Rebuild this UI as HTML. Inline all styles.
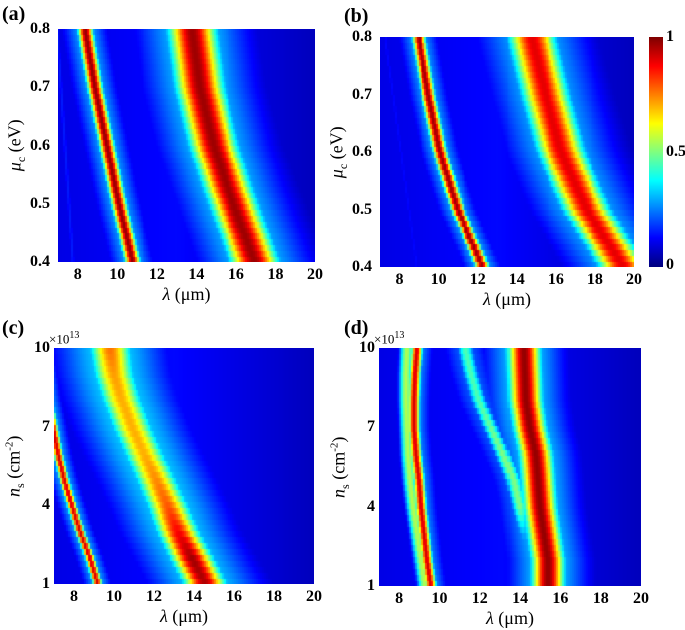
<!DOCTYPE html>
<html><head><meta charset="utf-8">
<style>
body{margin:0;background:#fff;}
#wrap{position:relative;width:685px;height:630px;overflow:hidden;font-family:"Liberation Serif",serif;color:#000;}
canvas{position:absolute;}
.t{position:absolute;font-size:16px;line-height:16px;white-space:nowrap;font-weight:bold;}
.pl{position:absolute;font-size:20px;font-weight:bold;line-height:20px;}
.xl{position:absolute;font-size:18px;line-height:18px;white-space:nowrap;}
.yl{position:absolute;font-size:18px;line-height:18px;white-space:nowrap;transform:rotate(-90deg);transform-origin:center;}
</style></head><body>
<div id="wrap"></div>
<script>
// ---- data (ridge centers in µm at sampled y values) ----
var aY=[0.4,0.5,0.6,0.7,0.8];
var aBand1=[10.8,10.1,9.5,8.9,8.4];
var aBand2=[17.0,15.9,14.9,14.2,13.8];
var aFaint=[7.8,7.6,7.4,7.2,7.0];
var bY=[0.4,0.5,0.6,0.7,0.8];
var bBand1=[12.3,11.0,10.1,9.5,9.0];
var bBand2=[19.5,17.6,16.3,15.5,14.8];
var bFaint=[8.9,8.5,8.1,7.7,7.3];
var cY=[1,2,3,4,5,6,7,8,9,10];
var cBand1=[9.2,8.8,8.3,7.9,7.5,7.2,6.95,6.7,6.5,6.3];
var cBand2=[14.6,13.9,13.2,12.7,12.1,11.5,10.9,10.4,10.0,9.8];
var cAmp2=[1.08,1.1,1.0,0.9,0.84,0.8,0.8,0.8,0.82,0.87];
var dY=[1,2,3,4,5,6,7,8,9,10];
var dBand1=[9.6,9.4,9.25,9.1,9.0,8.85,8.75,8.75,8.8,8.9];
var dBand1b=[9.3,9.1,8.9,8.7,8.55,8.45,8.4,8.35,8.35,8.4];
var dBand3=[14.6,14.4,14.2,14.0,13.7,13.2,12.6,12.0,11.6,11.3];
var dAmp3=[0.1,0.15,0.3,0.5,0.5,0.5,0.48,0.45,0.45,0.45];
var dBand4=[15.4,15.4,15.2,15.0,14.9,14.8,14.5,14.3,14.25,14.2];
var xTicks=[8,10,12,14,16,18,20];
var muTicks=[0.4,0.5,0.6,0.7,0.8];
var nTicks=[1,4,7,10];
var cbTicks=[0,0.5,1];

function interp(ys,vs,y){
  if(y<=ys[0])return vs[0];
  for(var i=1;i<ys.length;i++){if(y<=ys[i]){var f=(y-ys[i-1])/(ys[i]-ys[i-1]);return vs[i-1]+f*(vs[i]-vs[i-1]);}}
  return vs[vs.length-1];
}
function jet(v){v=Math.max(0,Math.min(1,v));
  function c(x){return Math.round(255*Math.max(0,Math.min(1,x)));}
  return 'rgb('+c(1.5-Math.abs(4*v-3))+','+c(1.5-Math.abs(4*v-2))+','+c(1.5-Math.abs(4*v-1))+')';}
function g(x,c,s){return Math.exp(-(x-c)*(x-c)/(2*s*s));}
function bg(x){return x<13?0.1+0.03*(x-7)/6:0.13-0.07*(x-13)/7;}
function mx(){return Math.max.apply(null,arguments);}

var panels=[
 {id:'a',x0:58,x1:315,y0:29,y1:262,ymin:0.4,ymax:0.8,
  f:function(x,y){var c1=interp(aY,aBand1,y),c2=interp(aY,aBand2,y),c3=interp(aY,aFaint,y);
   return mx(bg(x),g(x,c1,0.27)*0.98,0.3*g(x,c1,0.8),0.97*g(x,c2,0.85),0.35*g(x,c2,2.0),0.15*g(x,c3,0.1));}},
 {id:'b',x0:380,x1:634,y0:37,y1:267,ymin:0.4,ymax:0.8,
  f:function(x,y){var c1=interp(bY,bBand1,y),c2=interp(bY,bBand2,y),c3=interp(bY,bFaint,y);
   return mx(bg(x),g(x,c1,0.25)*0.97,0.3*g(x,c1,0.7),0.9*g(x,c2,0.85),0.33*g(x,c2,2.0),0.13*g(x,c3,0.1));}},
 {id:'c',x0:54,x1:314,y0:348,y1:584,ymin:1,ymax:10,
  f:function(x,y){var c1=interp(cY,cBand1,y),c2=interp(cY,cBand2,y),a2=interp(cY,cAmp2,y);
   return mx(bg(x),0.92*g(x,c1,0.17),0.3*g(x,c1,0.5),a2*0.88*g(x,c2,0.75),0.35*g(x,c2,2.0));}},
 {id:'d',x0:379,x1:641,y0:348,y1:586,ymin:1,ymax:10,
  f:function(x,y){var c1=interp(dY,dBand1,y),c1b=interp(dY,dBand1b,y),c3=interp(dY,dBand3,y),a3=interp(dY,dAmp3,y),c4=interp(dY,dBand4,y);
   return mx(bg(x),0.92*g(x,c1,0.2),0.55*g(x,c1b,0.25),0.28*g(x,c1,0.6),a3*g(x,c3,0.3),0.22*g(x,c3,0.9),0.98*g(x,c4,0.58),0.35*g(x,c4,1.4));}}
];

var wrap=document.getElementById('wrap');
function addText(cls,txt,left,top,name,html){var d=document.createElement('div');d.className=cls;
  if(html)d.innerHTML=txt;else d.textContent=txt;d.style.left=left+'px';d.style.top=top+'px';
  
  
  wrap.appendChild(d);return d;}

panels.forEach(function(p){
  var W=p.x1-p.x0,H=p.y1-p.y0;
  var cv=document.createElement('canvas');cv.width=W;cv.height=H;cv.style.left=p.x0+'px';cv.style.top=p.y0+'px';
  
  
  wrap.appendChild(cv);
  var ctx=cv.getContext('2d');var NX=130,NY=40;
  for(var j=0;j<NY;j++){var y=p.ymin+(p.ymax-p.ymin)*(j+0.5)/NY;
    for(var i=0;i<NX;i++){var x=7+13*(i+0.5)/NX;
      ctx.fillStyle=jet(p.f(x,y));
      var px=Math.floor(W*i/NX),px2=Math.ceil(W*(i+1)/NX);
      var py=Math.floor(H-H*(j+1)/NY),py2=Math.ceil(H-H*j/NY);
      ctx.fillRect(px,py,px2-px,py2-py);}}
  var sx=function(v){return p.x0+(v-7)/13*W;};
  var sy=function(v){return p.y1-(v-p.ymin)/(p.ymax-p.ymin)*H;};
  xTicks.forEach(function(t){addText('t',String(t),sx(t)-(t>=10?8:4),p.y1+5,'x-tick-'+p.id);});
  var yt=p.ymin<1?muTicks:nTicks;
  yt.forEach(function(t){var s=p.ymin<1?t.toFixed(1):String(t);
    addText('t',s,p.x0-4-(s.length*8),sy(t)-8,'y-tick-'+p.id);});
  addText('xl','<i>λ</i> (μm)',p.x0+W/2-24,p.y1+23,'x-axis-title-'+p.id,true);
  var yl;
  if(p.ymin<1) yl=addText('yl','<i>μ</i><sub style="font-size:12px">c</sub> (eV)',0,0,'y-axis-title-'+p.id,true);
  else yl=addText('yl','<i>n</i><sub style="font-size:12px">s</sub> (cm<sup style="font-size:11px">-2</sup>)',0,0,'y-axis-title-'+p.id,true);
  var cx=p.x0-40, cy=p.y0+H/2;
  yl.style.left=(cx-yl.offsetWidth/2)+'px';yl.style.top=(cy-yl.offsetHeight/2)+'px';
  if(p.ymin>=1){var e=addText('t','×10<sup style="font-size:10px">13</sup>',p.x0-5,p.y0-20,'exponent-label-'+p.id,true);e.style.fontSize='13px';e.style.fontWeight='normal';}
  addText('pl','('+p.id+')',p.id=='a'||p.id=='c'?2:344,p.id=='a'?4:(p.id=='b'?6:318),'panel-label-'+p.id);
});
// colorbar
var cb=document.createElement('canvas');cb.width=14;cb.height=230;cb.style.left='649px';cb.style.top='37px';


wrap.appendChild(cb);
var cc=cb.getContext('2d');for(var k=0;k<230;k++){cc.fillStyle=jet(1-k/229);cc.fillRect(0,k,14,1);}
cbTicks.forEach(function(t){addText('t',String(t),666,267-t*230-(t===0?10:8),'colorbar-tick');});
</script>
</body></html>
